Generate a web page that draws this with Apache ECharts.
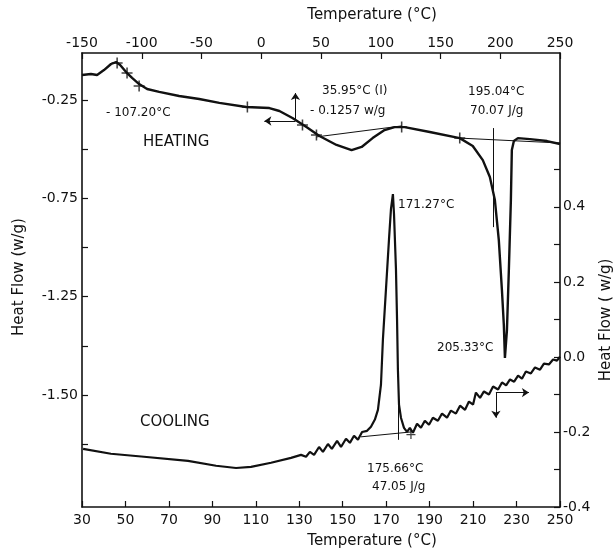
<!DOCTYPE html>
<html>
<head>
<meta charset="utf-8">
<script src="https://cdn.jsdelivr.net/npm/echarts@6/dist/echarts.min.js"></script>
<style>
  html, body { margin: 0; padding: 0; background: #fff; }
  #main { width: 616px; height: 552px; }
</style>
</head>
<body>
<div id="main"></div>
<script>
// heating run: top axis (°C), left axis (w/g)
var heatingT = [-150, -142.5, -137.4, -131.6, -125.7, -121.5, -118.1, -113.1, -108.1, -102.2, -95.5, -85.4,
    -68.7, -51.9, -35.1, -12.5, 6.8, 15.2, 26.1, 37.8, 48.7, 63.0, 75.6, 84.0, 93.2, 103.2, 111.6, 120.0,
    141.0, 166.1, 177.0, 185.4, 191.3, 195.5, 198.8, 201.4, 203.0, 203.9, 205.6, 207.2, 208.9, 209.7,
    211.4, 214.8, 224.8, 239.1, 250];
var heatingW = [-0.122, -0.117, -0.122, -0.097, -0.066, -0.056, -0.071, -0.107, -0.137, -0.168, -0.193, -0.208,
    -0.229, -0.244, -0.264, -0.285, -0.290, -0.305, -0.341, -0.387, -0.432, -0.478, -0.504, -0.488, -0.443, -0.402, -0.387, -0.387,
    -0.412, -0.443, -0.483, -0.555, -0.641, -0.758, -0.962, -1.216, -1.394, -1.562, -1.420, -1.114, -0.758, -0.504,
    -0.458, -0.443, -0.448, -0.458, -0.473];

// cooling run: bottom axis (°C), right axis (w/g)
var coolingT = [30.5, 43.3, 58.5, 78.8, 91.7, 100.9, 107.8, 117.0, 126.2, 130.8, 133.1, 134.9, 136.8, 139.1,
    140.9, 143.2, 145.0, 147.4, 149.2, 151.5, 153.3, 155.2, 157.0, 158.9, 161.2, 163.0, 164.8, 166.2, 167.6,
    168.5, 169.9, 171.3, 172.2, 173.1, 173.6, 174.5, 175.0, 175.4, 175.9, 176.8, 178.2, 179.6, 180.9, 182.3,
    184.2, 186.0, 187.8, 189.7, 191.5, 193.8, 195.7, 198.0, 199.8, 202.1, 204.0, 206.3, 208.1, 210.0, 211.3,
    213.2, 215.0, 217.3, 219.2, 221.5, 223.3, 225.2, 227.0, 228.9, 230.7, 232.5, 234.3, 236.6, 238.5, 240.8,
    242.6, 244.9, 246.8, 248.6, 250.0];
var coolingW = [-0.245, -0.258, -0.266, -0.277, -0.290, -0.296, -0.293, -0.282, -0.269, -0.261, -0.266, -0.253, -0.261, -0.240,
    -0.253, -0.232, -0.245, -0.224, -0.240, -0.218, -0.229, -0.210, -0.221, -0.200, -0.197, -0.186, -0.167, -0.141, -0.074,
    0.047, 0.180, 0.314, 0.394, 0.434, 0.381, 0.234, 0.100, -0.034, -0.127, -0.162, -0.189, -0.200, -0.189, -0.202,
    -0.178, -0.189, -0.170, -0.181, -0.162, -0.170, -0.151, -0.162, -0.143, -0.151, -0.130, -0.141, -0.119, -0.127, -0.095,
    -0.109, -0.092, -0.100, -0.079, -0.087, -0.068, -0.076, -0.060, -0.066, -0.050, -0.058, -0.039, -0.044, -0.028, -0.034,
    -0.018, -0.020, -0.007, -0.010, 0.001];

// little crosses marking the analysis points
var heatCrossT = [-120.6, -112.3, -102.2, -11.6, 34.5, 46.2, 117.5, 166.1];
var heatCrossW = [-0.061, -0.112, -0.178, -0.285, -0.376, -0.427, -0.387, -0.443];
var coolCrossT = [181.4];
var coolCrossW = [-0.207];

// axis ticks and labels
var topLabels = [-150, -100, -50, 0, 50, 100, 150, 200, 250];
var bottomLabels = [30, 50, 70, 90, 110, 130, 150, 170, 190, 210, 230, 250];
var leftTicks = [-0.25, -0.5, -0.75, -1, -1.25, -1.5, -1.75, -2];
var leftLabelValues = [-0.25, -0.75, -1.25, -1.75];
var leftLabelText = ['-0.25', '-0.75', '-1.25', '-1.50'];
var rightTicks = [-0.4, -0.3, -0.2, -0.1, 0, 0.1, 0.2, 0.3, 0.4, 0.5];
var rightLabels = [-0.4, -0.2, 0, 0.2, 0.4];

function pairs(xs, ys) {
    return xs.map(function (x, i) { return [x, ys[i]]; });
}
function seg(a, b, arrow) {
    return [{ coord: a, symbol: 'none' }, { coord: b, symbol: arrow ? 'arrow' : 'none' }];
}

var FONT = 'DejaVu Sans';
var INK = '#111';
var axisLine = { show: true, onZero: false, lineStyle: { color: INK, width: 1.6 } };
var cross = 'path://M4.3,0h1.4v10h-1.4zM0,4.3h10v1.4h-10z';

var myChart = echarts.init(document.getElementById('main'));

function note(text, x, y, size) {
    return {
        type: 'text', x: x, y: y,
        style: { text: text, fill: INK, font: (size || 12) + 'px "' + FONT + '"', verticalAlign: 'middle' }
    };
}

myChart.setOption({
    animation: false,
    backgroundColor: '#fff',
    textStyle: { fontFamily: FONT, color: INK },
    grid: { left: 82, right: 56, top: 53, bottom: 45 },
    xAxis: [{
        type: 'value', position: 'bottom', min: 30, max: 250,
        axisLine: axisLine,
        axisTick: { inside: true, length: 6, lineStyle: { color: INK, width: 1.2 }, customValues: bottomLabels },
        axisLabel: { color: INK, fontSize: 14, margin: 6, customValues: bottomLabels },
        splitLine: { show: false }
    }, {
        type: 'value', position: 'top', min: -150, max: 250, interval: 50,
        axisLine: axisLine,
        axisTick: { inside: true, length: 6, lineStyle: { color: INK, width: 1.2 } },
        axisLabel: { color: INK, fontSize: 14, margin: 3, customValues: topLabels },
        splitLine: { show: false }
    }],
    yAxis: [{
        type: 'value', position: 'left', min: -2.32, max: -0.01,
        axisLine: axisLine,
        axisTick: { inside: true, length: 6, lineStyle: { color: INK, width: 1.2 }, customValues: leftTicks },
        axisLabel: {
            color: INK, fontSize: 14, margin: 4, customValues: leftLabelValues,
            formatter: function (v) {
                for (var i = 0; i < leftLabelValues.length; i++) {
                    if (Math.abs(leftLabelValues[i] - v) < 1e-6) return leftLabelText[i];
                }
                return '';
            }
        },
        splitLine: { show: false }
    }, {
        type: 'value', position: 'right', min: -0.4, max: 0.81,
        axisLine: axisLine,
        axisTick: { inside: true, length: 6, lineStyle: { color: INK, width: 1.2 }, customValues: rightTicks },
        axisLabel: {
            color: INK, fontSize: 14, margin: 3, customValues: rightLabels,
            formatter: function (v) { return v.toFixed(1); }
        },
        splitLine: { show: false }
    }],
    series: [{
        name: 'Heating', type: 'line', xAxisIndex: 1, yAxisIndex: 0,
        data: pairs(heatingT, heatingW),
        showSymbol: false,
        lineStyle: { color: INK, width: 2.4 },
        markLine: {
            silent: true, symbolSize: 7, label: { show: false },
            lineStyle: { color: INK, width: 1, type: 'solid' },
            data: [
                seg([46.2, -0.437], [117.5, -0.381]),
                seg([166.1, -0.443], [250, -0.468]),
                seg([193.8, -0.392], [193.8, -0.896]),
                seg([28.6, -0.356], [28.6, -0.214], true),
                seg([28.6, -0.356], [2.6, -0.356], true)
            ]
        }
    }, {
        name: 'Cooling', type: 'line', xAxisIndex: 0, yAxisIndex: 1,
        data: pairs(coolingT, coolingW),
        showSymbol: false,
        lineStyle: { color: INK, width: 2.2 },
        markLine: {
            silent: true, symbolSize: 7, label: { show: false },
            lineStyle: { color: INK, width: 1, type: 'solid' },
            data: [
                seg([158.4, -0.213], [181.4, -0.200]),
                seg([175.4, -0.060], [175.4, -0.221]),
                seg([220.5, -0.095], [235.7, -0.095], true),
                seg([220.5, -0.095], [220.5, -0.162], true)
            ]
        }
    }, {
        name: 'heat marks', type: 'scatter', xAxisIndex: 1, yAxisIndex: 0,
        data: pairs(heatCrossT, heatCrossW),
        symbol: cross, symbolSize: 11, itemStyle: { color: INK }, silent: true
    }, {
        name: 'cool marks', type: 'scatter', xAxisIndex: 0, yAxisIndex: 1,
        data: pairs(coolCrossT, coolCrossW),
        symbol: cross, symbolSize: 9, itemStyle: { color: INK }, silent: true
    }],
    graphic: [
        {
            type: 'text', x: 372, y: 15,
            style: { text: 'Temperature (°C)', fill: INK, font: '15px "' + FONT + '"', align: 'center', verticalAlign: 'middle' }
        },
        {
            type: 'text', x: 372, y: 541,
            style: { text: 'Temperature (°C)', fill: INK, font: '15px "' + FONT + '"', align: 'center', verticalAlign: 'middle' }
        },
        {
            type: 'text', x: 19, y: 277, rotation: Math.PI / 2,
            style: { text: 'Heat Flow (w/g)', fill: INK, font: '15px "' + FONT + '"', align: 'center', verticalAlign: 'middle' }
        },
        {
            type: 'text', x: 606, y: 320, rotation: Math.PI / 2,
            style: { text: 'Heat Flow ( w/g)', fill: INK, font: '15px "' + FONT + '"', align: 'center', verticalAlign: 'middle' }
        },
        note('- 107.20°C', 106, 113),
        note('HEATING', 143, 142, 15),
        note('35.95°C (I)', 322, 91),
        note('- 0.1257 w/g', 310, 111),
        note('195.04°C', 468, 92),
        note('70.07 J/g', 470, 111),
        note('171.27°C', 398, 205),
        note('205.33°C', 437, 348),
        note('COOLING', 140, 422, 15),
        note('175.66°C', 367, 469),
        note('47.05 J/g', 372, 487)
    ]
});
</script>
</body>
</html>
